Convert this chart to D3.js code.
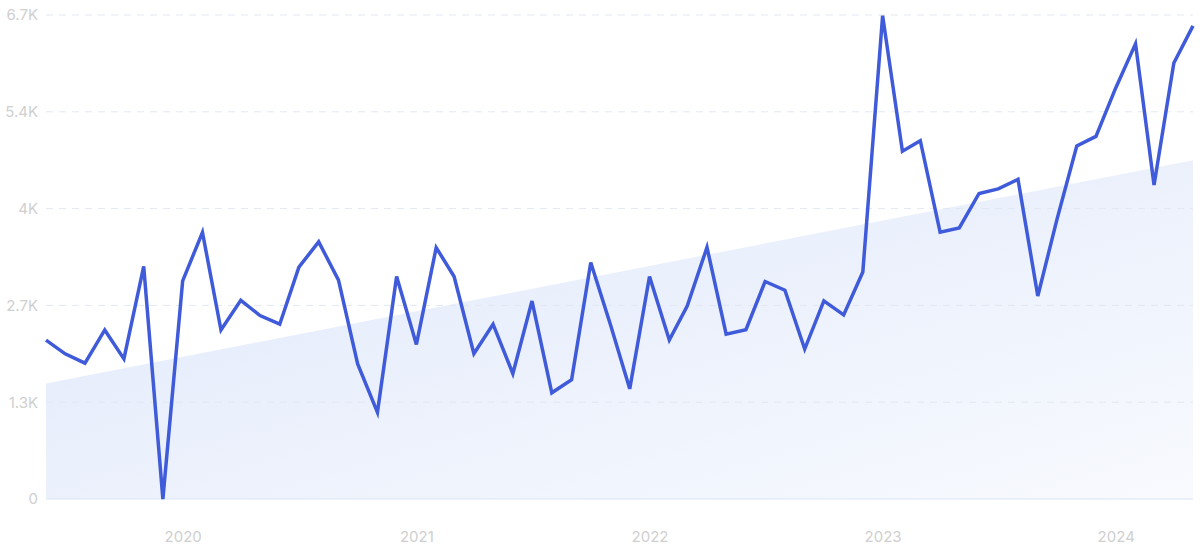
<!DOCTYPE html>
<html>
<head>
<meta charset="utf-8">
<script src="https://cdn.jsdelivr.net/npm/d3@7"></script>
<style>
  html, body { margin: 0; padding: 0; background: #ffffff; }
  svg { display: block; }
  text { font-family: Inter, "Noto Sans", sans-serif; }
</style>
</head>
<body>
<svg id="chart" width="1200" height="553"></svg>
<script>
// ---- data ----
const startMonth = "2019-06";
const values = [
  2200, 2010, 1880, 2340, 1940, 3220, 0, 3020, 3690, 2340, 2750, 2540, 2420, 3210,
  3560, 3030, 1870, 1200, 3080, 2140, 3480, 3080, 2010, 2420, 1735, 2740, 1470, 1650, 3275,
  2410, 1525, 3080, 2200, 2670, 3484, 2281, 2344, 3011, 2890, 2076, 2743, 2548, 3143, 6690, 4814,
  4960, 3694, 3752, 4230, 4293, 4425, 2810, 3870, 4887, 5020, 5690, 6300, 4347, 6035, 6550
];
const trendValues = [1600, 4690];
const yTicks = [0, 1340, 2680, 4020, 5360, 6700];
const yTickLabels = ["0", "1.3K", "2.7K", "4K", "5.4K", "6.7K"];
const xTickYears = ["2020", "2021", "2022", "2023", "2024"];

// ---- setup ----
const svg = d3.select("#chart");
const parseMonth = d3.timeParse("%Y-%m");
const start = parseMonth(startMonth);
const dates = values.map((v, i) => d3.timeMonth.offset(start, i));
const data = values.map((v, i) => ({ date: dates[i], value: v }));

const x = d3.scaleTime()
  .domain([dates[0], dates[dates.length - 1]])
  .range([46, 1193]);
const y = d3.scaleLinear()
  .domain([0, 6700])
  .range([499, 15]);

// gradient
const defs = svg.append("defs");
const grad = defs.append("linearGradient")
  .attr("id", "trendGrad")
  .attr("x1", "0%").attr("y1", "0%")
  .attr("x2", "100%").attr("y2", "100%");
grad.append("stop").attr("offset", "0%").attr("stop-color", "#dfe8fa");
grad.append("stop").attr("offset", "100%").attr("stop-color", "#f8fafe");

// trend area
const trendData = [
  { date: dates[0], value: trendValues[0] },
  { date: dates[dates.length - 1], value: trendValues[1] }
];
svg.append("path")
  .datum(trendData)
  .attr("fill", "url(#trendGrad)")
  .attr("d", d3.area()
    .x(d => x(d.date))
    .y0(y(0))
    .y1(d => y(d.value)));

// grid lines
const grid = svg.append("g");
grid.selectAll("line")
  .data(yTicks.filter(t => t > 0))
  .join("line")
  .attr("x1", 46)
  .attr("x2", 1193)
  .attr("y1", d => y(d))
  .attr("y2", d => y(d))
  .attr("stroke", "#e2e7f2")
  .attr("stroke-width", 1)
  .attr("stroke-dasharray", "7,6");

// baseline
svg.append("line")
  .attr("x1", 46).attr("x2", 1193)
  .attr("y1", y(0)).attr("y2", y(0))
  .attr("stroke", "#dbe4f7")
  .attr("stroke-width", 1);

// y axis labels
const yAxis = d3.axisLeft(y)
  .tickValues(yTicks)
  .tickFormat((d, i) => yTickLabels[i])
  .tickSize(0)
  .tickPadding(8);
const gy = svg.append("g")
  .attr("transform", "translate(46,0)")
  .call(yAxis);
gy.select(".domain").remove();
gy.selectAll("text")
  .attr("fill", "#cfcfcf")
  .style("font-size", "15px")
  .style("font-family", "Inter, 'Noto Sans', sans-serif");

// x axis labels
const xTickDates = xTickYears.map(s => d3.timeParse("%Y")(s));
const xAxis = d3.axisBottom(x)
  .tickValues(xTickDates)
  .tickFormat(d3.timeFormat("%Y"))
  .tickSize(0)
  .tickPadding(32);
const gx = svg.append("g")
  .attr("transform", `translate(0,${y(0)})`)
  .call(xAxis);
gx.select(".domain").remove();
gx.selectAll("text")
  .attr("fill", "#cfcfcf")
  .style("font-size", "15px")
  .style("font-family", "Inter, 'Noto Sans', sans-serif");

// main line
svg.append("path")
  .datum(data)
  .attr("fill", "none")
  .attr("stroke", "#3f5bd9")
  .attr("stroke-width", 3.5)
  .attr("stroke-linejoin", "miter")
  .attr("stroke-miterlimit", 4)
  .attr("d", d3.line()
    .x(d => x(d.date))
    .y(d => y(d.value)));
</script>
</body>
</html>
